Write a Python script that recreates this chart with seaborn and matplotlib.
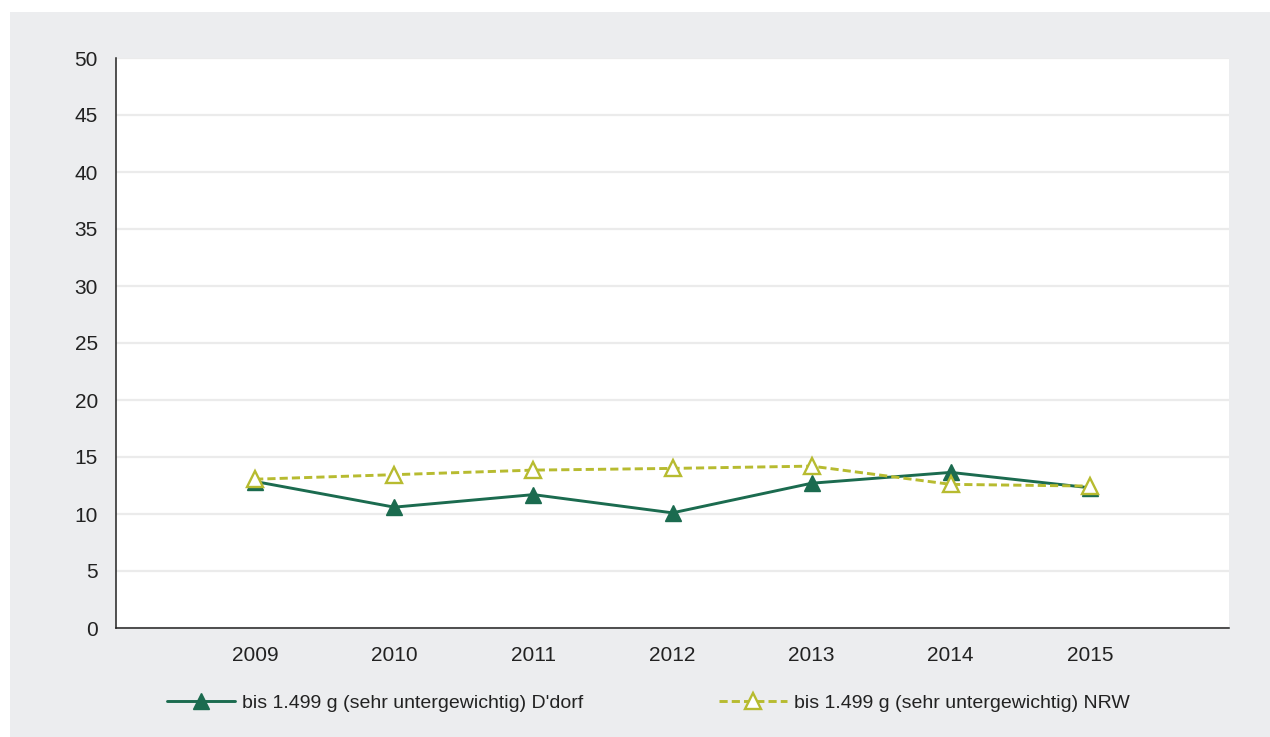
import matplotlib
matplotlib.use("Agg")
import matplotlib.pyplot as plt
from matplotlib.patches import Rectangle
import seaborn as sns
import pandas as pd

# --- data ---
years = [2009, 2010, 2011, 2012, 2013, 2014, 2015]
ddorf = [12.85, 10.6, 11.7, 10.1, 12.7, 13.65, 12.3]
nrw = [13.05, 13.45, 13.85, 14.0, 14.2, 12.6, 12.45]
label_ddorf = "bis 1.499 g (sehr untergewichtig) D'dorf"
label_nrw = "bis 1.499 g (sehr untergewichtig) NRW"
y_ticks = [0, 5, 10, 15, 20, 25, 30, 35, 40, 45, 50]

green = "#1b6b4f"
olive = "#b7bb30"
panel = "#ecedef"

sns.set_style("white")
plt.rcParams["font.family"] = ["Liberation Sans", "DejaVu Sans"]

df = pd.DataFrame({"year": years, "ddorf": ddorf, "nrw": nrw})

fig = plt.figure(figsize=(12.7, 7.37), dpi=100, facecolor="white")
# grey panel behind the chart
fig.patches.append(Rectangle((10 / 1270, 0), 1 - 10 / 1270, (737 - 12) / 737,
                             transform=fig.transFigure, facecolor=panel,
                             edgecolor="none", zorder=-10))

ax = fig.add_axes([116 / 1270, (737 - 628) / 737, (1229 - 116) / 1270, (628 - 58) / 737])
ax.set_facecolor("white")

sns.lineplot(data=df, x="year", y="nrw", ax=ax, color=olive, linewidth=2.1,
             linestyle=(0, (2.8, 1.4)), marker="^", markersize=11.5,
             markerfacecolor="white", markeredgecolor=olive, markeredgewidth=1.7,
             label=label_nrw, zorder=3)
sns.lineplot(data=df, x="year", y="ddorf", ax=ax, color=green, linewidth=2.1,
             marker="^", markersize=12, markerfacecolor=green,
             markeredgecolor=green, markeredgewidth=1.0,
             label=label_ddorf, zorder=2)

ax.set_xlim(2008, 2016)
ax.set_ylim(0, 50)
ax.set_xticks(range(2008, 2017))
ax.set_xticklabels([""] + [str(y) for y in years] + [""])
ax.set_yticks(y_ticks)
ax.set_xlabel("")
ax.set_ylabel("")

ax.grid(axis="y", color="#ebebeb", linewidth=1.6)
ax.set_axisbelow(True)
for side in ["top", "right"]:
    ax.spines[side].set_visible(False)
for side in ["left", "bottom"]:
    ax.spines[side].set_color("#222222")
    ax.spines[side].set_linewidth(1.1)

ax.tick_params(axis="y", length=4, width=0.8, color="#222222", pad=9,
               labelsize=15, labelcolor="#222222")
ax.tick_params(axis="x", length=4, width=0.8, color="#777777", pad=9,
               labelsize=15, labelcolor="#222222")

# legend below, D'dorf first
handles, labels = ax.get_legend_handles_labels()
order = [labels.index(label_ddorf), labels.index(label_nrw)]
ax.get_legend().remove()
fig.legend([handles[i] for i in order], [labels[i] for i in order],
           loc="center left", bbox_to_anchor=(167 / 1270, (737 - 703) / 737),
           ncol=2, frameon=False, borderpad=0, borderaxespad=0,
           handlelength=3.5, handletextpad=0.36, columnspacing=7.0,
           prop={"size": 14}, labelcolor="#222222")

fig.savefig("out.png", dpi=100, facecolor="white")
